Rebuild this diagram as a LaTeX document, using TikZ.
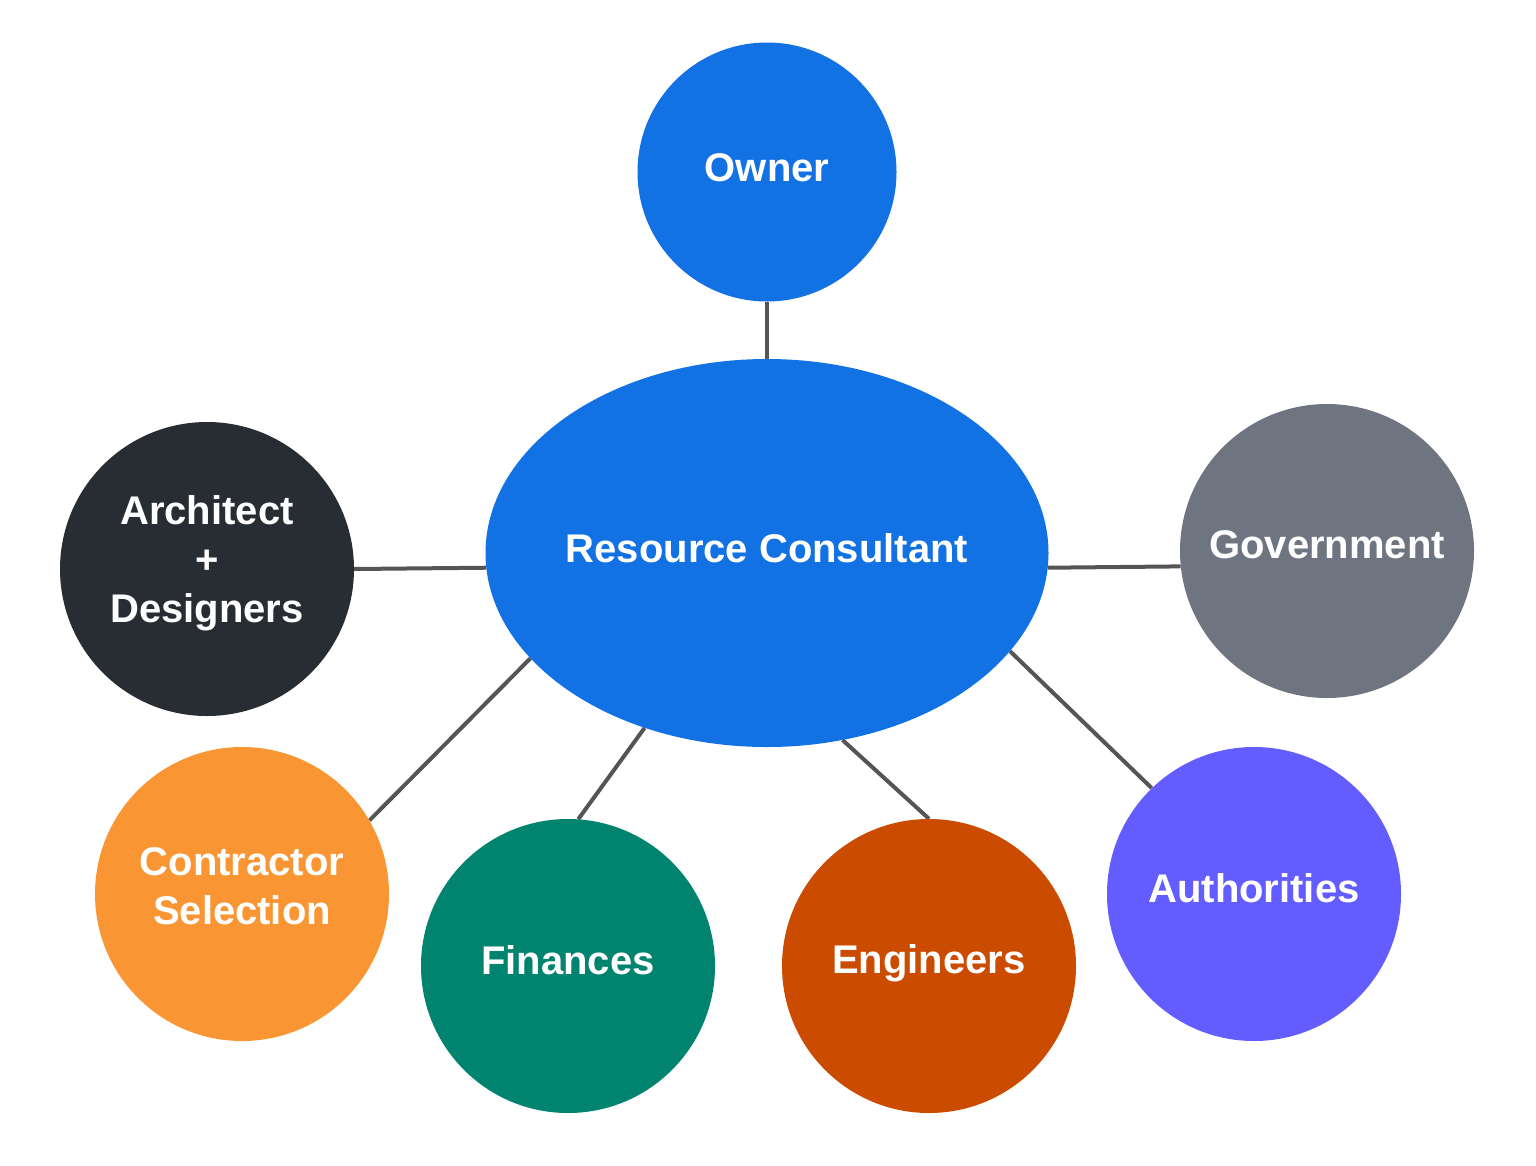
\documentclass[tikz,border=0pt]{standalone}
\usepackage{fontspec}
\setmainfont{Liberation Sans}
\usetikzlibrary{shapes.geometric,backgrounds}
\definecolor{cblue}{HTML}{1272E4}
\definecolor{cdark}{HTML}{282C33}
\definecolor{cgray}{HTML}{6F7580}
\definecolor{corange}{HTML}{F99532}
\definecolor{cteal}{HTML}{00846F}
\definecolor{crust}{HTML}{CB4C00}
\definecolor{cviolet}{HTML}{635DFF}
\definecolor{cline}{HTML}{555555}
\begin{document}
\begin{tikzpicture}[x=1pt,y=-1pt,
  bubble/.style={circle, minimum size=294pt, inner sep=0pt},
  txt/.style={text=white, font=\fontsize{40}{49}\selectfont\bfseries, align=center, inner sep=0pt},
  link/.style={draw=cline, line width=4pt}]
\useasboundingbox (0,0) rectangle (1536,1165);
\node[bubble, minimum size=259pt, fill=cblue] (owner) at (767,172) {};
\node[ellipse, minimum width=563pt, minimum height=388pt, inner sep=0pt, fill=cblue] (rc) at (767,553) {};
\node[bubble, fill=cdark] (arch) at (207,569) {};
\node[bubble, fill=cgray] (gov) at (1327,551) {};
\node[bubble, fill=corange] (contr) at (242,894) {};
\node[bubble, fill=cteal] (fin) at (568,966) {};
\node[bubble, fill=crust] (eng) at (929,966) {};
\node[bubble, fill=cviolet] (auth) at (1254,894) {};
\node[txt] (ownert) at ([yshift=4pt]owner.center) {Owner};
\node[txt] (rct) at ([yshift=5pt]rc.center) {Resource Consultant};
\node[txt] (archt) at ([yshift=6pt]arch.center) {Architect\\+\\Designers};
\node[txt] (govt) at ([yshift=6pt]gov.center) {Government};
\node[txt] (contrt) at ([yshift=8pt]contr.center) {Contractor\\Selection};
\node[txt] (fint) at ([yshift=6pt]fin.center) {Finances};
\node[txt] (engt) at ([yshift=3pt]eng.center) {Engineers};
\node[txt] (autht) at ([yshift=6pt]auth.center) {Authorities};
\begin{scope}[on background layer]
\draw[link] (owner.south) -- (rc.north);
\draw[link] (arch.-0.8) -- (rc.183.7);
\draw[link] (gov.186) -- (rc.357.4);
\draw[link] (contr.30) -- (rc.204.4);
\draw[link] (fin.86) -- (rc.235.6);
\draw[link] (eng.90) -- (rc.292.9);
\draw[link] (auth.134) -- (rc.338.4);
\end{scope}
\end{tikzpicture}
\end{document}
